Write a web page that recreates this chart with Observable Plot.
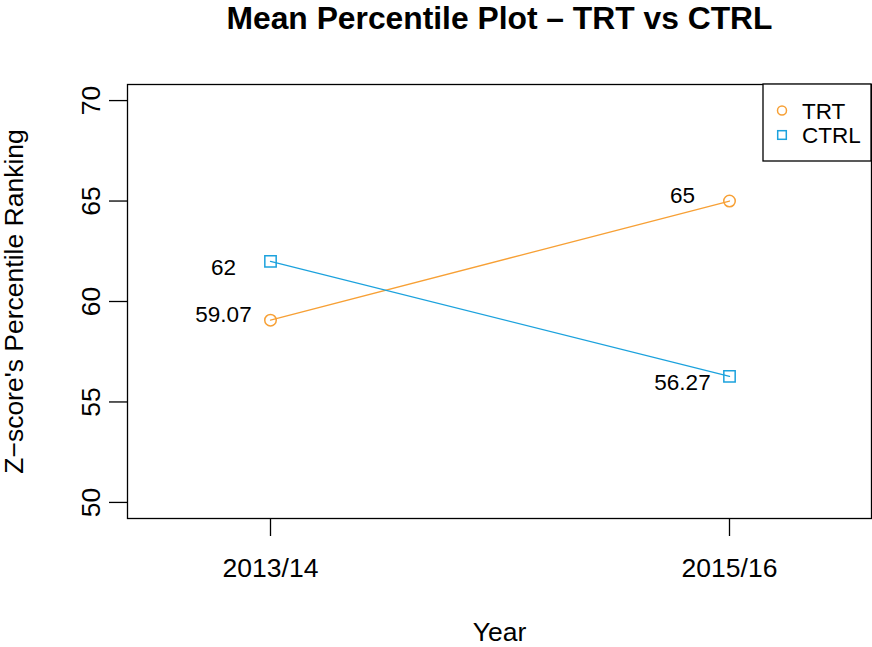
<!DOCTYPE html>
<html><head><meta charset="utf-8">
<script src="https://cdn.jsdelivr.net/npm/d3@7"></script>
<script src="https://cdn.jsdelivr.net/npm/@observablehq/plot@0.6"></script>
<style>body{margin:0;background:#fff} svg{display:block}</style>
</head><body><div id="chart"></div>
<script>
const years = ["2013/14", "2015/16"];
const series = ["TRT", "CTRL"];
const trtValues = [59.07, 65];
const ctrlValues = [62, 56.27];
const yTicks = [50, 55, 60, 65, 70];
const title = "Mean Percentile Plot – TRT vs CTRL";
const xLabel = "Year";
const yLabel = "Z−score's Percentile Ranking";

const seriesColors = ["#F7A035", "#1CA2DD"];
const labelDy = {TRT: -5, CTRL: 6};

const rows = [];
years.forEach((yr, i) => {
  rows.push({year: yr, series: "TRT", value: trtValues[i]});
  rows.push({year: yr, series: "CTRL", value: ctrlValues[i]});
});

const W = 872, H = 647, ML = 127, MR = 1, MT = 84, MB = 129;
const font = "'Liberation Sans', Arial, Helvetica, sans-serif";
const fs = 26.5, fsSmall = 22.5;
const colorOf = s => seriesColors[series.indexOf(s)];

const chart = Plot.plot({
  width: W, height: H,
  marginLeft: ML, marginRight: MR, marginTop: MT, marginBottom: MB,
  style: {fontFamily: font, background: "white", color: "black"},
  x: {type: "point", domain: years, padding: 0.309, axis: null, label: null},
  y: {domain: [49.2, 70.8], axis: null, label: null},
  color: {domain: series, range: seriesColors},
  marks: [
    Plot.frame({stroke: "black", strokeWidth: 1.3}),
    Plot.axisX({tickSize: 18, tickPadding: 22, fontSize: fs, label: null, strokeWidth: 1.3}),
    Plot.axisY({ticks: yTicks, tickSize: 18, tickFormat: () => "", label: null, strokeWidth: 1.3}),
    Plot.text(yTicks, {y: d => d, text: d => String(d), frameAnchor: "left", dx: -36, rotate: -90,
      fontSize: fs, textAnchor: "middle", lineAnchor: "middle"}),
    Plot.text([title], {text: d => d, frameAnchor: "top", dy: -66, fontSize: 31.8, fontWeight: "bold",
      textAnchor: "middle", lineAnchor: "middle"}),
    Plot.text([yLabel], {text: d => d, frameAnchor: "left", dx: -113, rotate: -90, fontSize: fs,
      textAnchor: "middle", lineAnchor: "middle"}),
    Plot.text([xLabel], {text: d => d, frameAnchor: "bottom", dy: 114.5, fontSize: fs,
      textAnchor: "middle", lineAnchor: "middle"}),
    Plot.line(rows, {x: "year", y: "value", z: "series", stroke: "series", strokeWidth: 1.3}),
    Plot.dot(rows.filter(d => d.series === "TRT"), {x: "year", y: "value", stroke: "series", symbol: "circle", r: 5.75, strokeWidth: 1.5, fill: "none"}),
    Plot.dot(rows.filter(d => d.series === "CTRL"), {x: "year", y: "value", stroke: "series", symbol: "square", r: 6.4, strokeWidth: 1.5, fill: "none"}),
    ...series.map(s => Plot.text(rows.filter(d => d.series === s), {x: "year", y: "value", text: d => String(d.value),
      dx: -47, dy: labelDy[s], fontSize: fsSmall, textAnchor: "middle", lineAnchor: "middle", fill: "black"}))
  ]
});
document.getElementById("chart").appendChild(chart);

// legend (top-right, inside frame)
const svg = d3.select(chart);
const lg = svg.append("g").attr("font-family", font).attr("text-anchor", "start");
const lx0 = 763, ly0 = MT, lx1 = W - MR, ly1 = 161;
lg.append("rect").attr("x", lx0).attr("y", ly0).attr("width", lx1 - lx0).attr("height", ly1 - ly0)
  .attr("fill", "white").attr("stroke", "black").attr("stroke-width", 1.3);
series.forEach((s, i) => {
  const cy = 110.5 + i * 24.5;
  if (i === 0) {
    lg.append("circle").attr("cx", 782).attr("cy", cy).attr("r", 4.5).attr("fill", "none").attr("stroke", colorOf(s)).attr("stroke-width", 1.5);
  } else {
    lg.append("rect").attr("x", 782 - 4.3).attr("y", cy - 4.3).attr("width", 8.6).attr("height", 8.6).attr("fill", "none").attr("stroke", colorOf(s)).attr("stroke-width", 1.5);
  }
  lg.append("text").attr("x", 802).attr("y", cy).attr("dy", "0.36em").attr("text-anchor", "start")
    .attr("font-size", fsSmall).attr("fill", "black").text(s);
});
</script>
</body></html>
